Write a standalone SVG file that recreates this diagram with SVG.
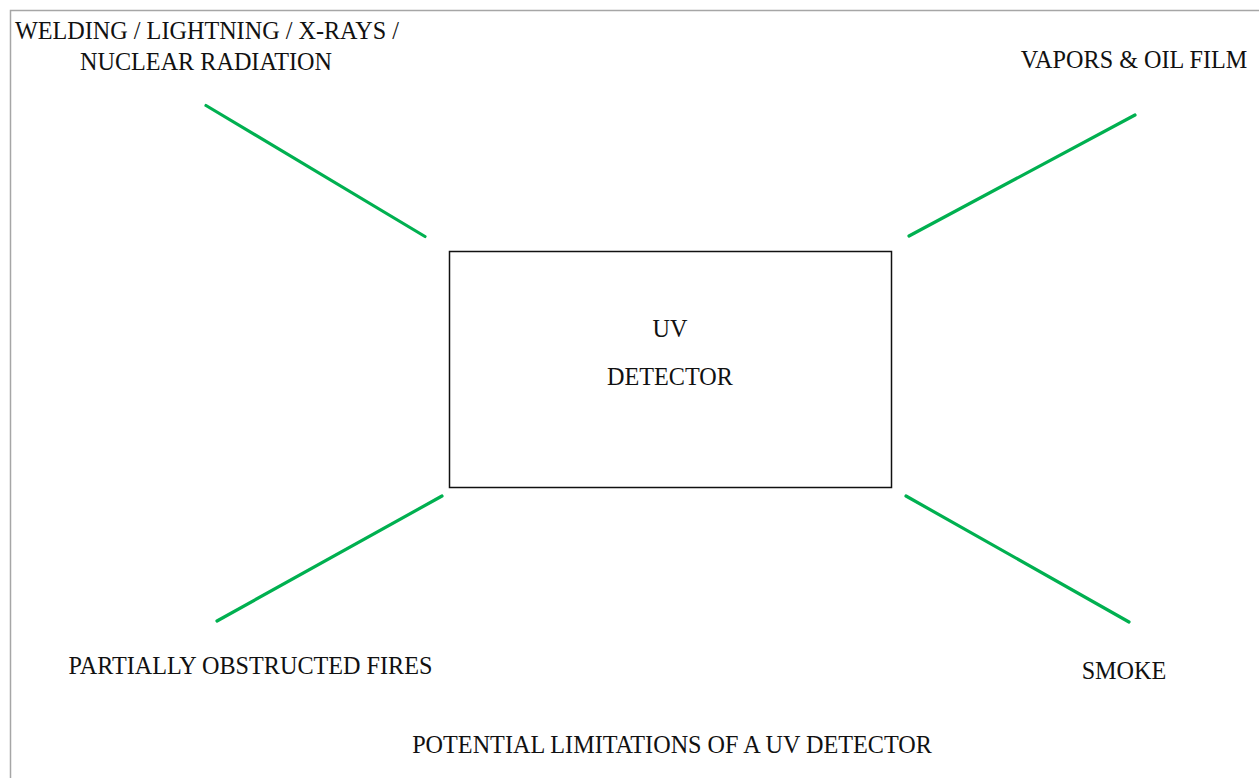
<svg xmlns="http://www.w3.org/2000/svg" width="1259" height="778" viewBox="0 0 1259 778">
<style>
.t{font-family:"Liberation Serif","Times New Roman",serif;font-size:24.2px;fill:#111;text-anchor:middle}
.c{stroke:#00b050;stroke-width:3.2;stroke-linecap:round;fill:none}
</style>
<rect x="0" y="0" width="1259" height="778" fill="#fff"/>
<rect x="10.5" y="10.5" width="1260" height="780" fill="none" stroke="#a6a6a6" stroke-width="1.5"/>
<g id="connectors">
<line class="c" x1="206" y1="105.5" x2="425" y2="236.5"/>
<line class="c" x1="909" y1="236" x2="1135" y2="115"/>
<line class="c" x1="217" y1="621" x2="442" y2="496"/>
<line class="c" x1="906" y1="496" x2="1129" y2="622"/>
</g>
<g id="detector">
<rect x="449.5" y="251.5" width="442" height="236" fill="#fff" stroke="#111" stroke-width="1.5"/>
<text class="t" x="670" y="337">UV</text>
<text class="t" x="670" y="385">DETECTOR</text>
</g>
<g id="welding">
<text class="t" x="207" y="39">WELDING / LIGHTNING / X-RAYS /</text>
<text class="t" x="206" y="70">NUCLEAR RADIATION</text>
</g>
<g id="vapors">
<text class="t" x="1134" y="68">VAPORS &amp; OIL FILM</text>
</g>
<g id="obstructed">
<text class="t" x="250.5" y="674">PARTIALLY OBSTRUCTED FIRES</text>
</g>
<g id="smoke">
<text class="t" x="1124" y="679">SMOKE</text>
</g>
<g id="caption">
<text class="t" x="672" y="753">POTENTIAL LIMITATIONS OF A UV DETECTOR</text>
</g>
</svg>
